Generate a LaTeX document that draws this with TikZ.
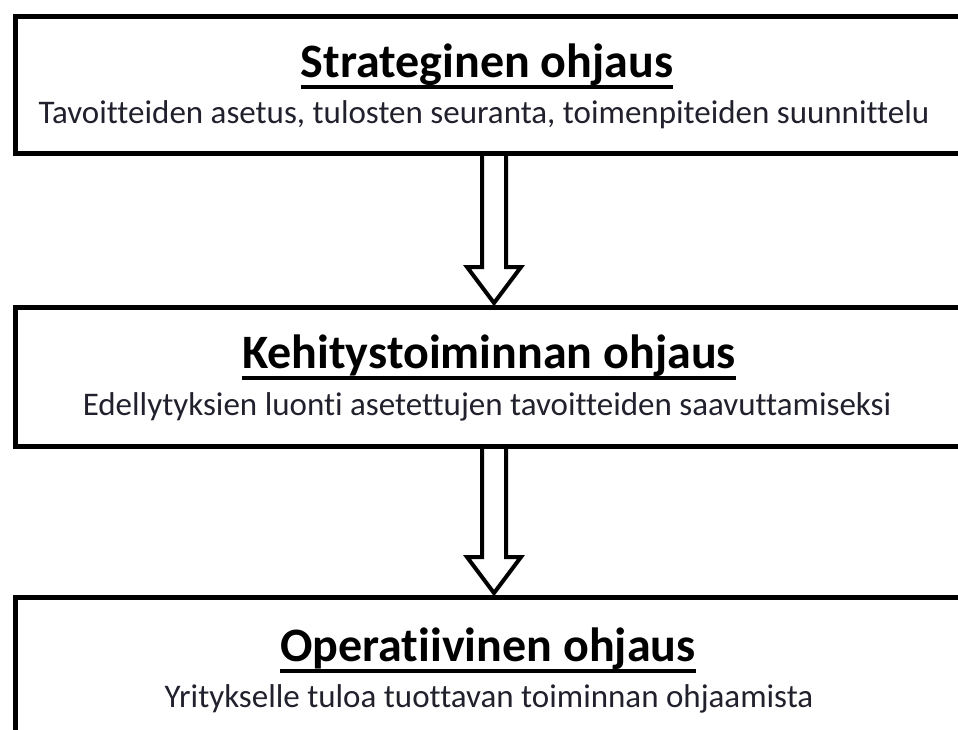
\documentclass[tikz,border=0pt]{standalone}
\usepackage{fontspec}
\setmainfont{Carlito}[Ligatures=NoCommon]
\usetikzlibrary{calc}
\definecolor{subtext}{rgb}{0.13,0.13,0.18}
\tikzset{
  box/.style={draw, line width=5pt, anchor=north west, minimum width=1100pt, inner sep=0pt},
  heading/.style={anchor=base, inner sep=0pt, font=\fontsize{48}{48}\selectfont\bfseries, text=black},
  subline/.style={anchor=base, inner sep=0pt, font=\fontsize{33}{33}\selectfont, text=subtext},
  uline/.style={line width=4pt},
  hollowarrow/.style={draw, line width=4pt, line join=miter},
}
\begin{document}
\begin{tikzpicture}[x=1pt, y=-1pt]
  \useasboundingbox (0,0) rectangle (958,729);
  \clip (0,0) rectangle (958,729);

  % three levels of steering
  \node[box, minimum height=137pt] (b1) at (13,14) {};
  \node[box, minimum height=139pt] (b2) at (13,305) {};
  \node[box, minimum height=300pt] (b3) at (13,595) {};

  \node[heading] (t1) at (487,77) {Strateginen ohjaus};
  \draw[uline] ([yshift=-10pt]t1.base west) -- ([yshift=-10pt]t1.base east);
  \node[subline] (s1) at (484,123) {Tavoitteiden asetus, tulosten seuranta, toimenpiteiden suunnittelu};

  \node[heading] (t2) at (489,368) {Kehitystoiminnan ohjaus};
  \draw[uline] ([yshift=-10pt]t2.base west) -- ([yshift=-10pt]t2.base east);
  \node[subline] (s2) at (487,415) {Edellytyksien luonti asetettujen tavoitteiden saavuttamiseksi};

  \node[heading] (t3) at (488,661) {Operatiivinen ohjaus};
  \draw[uline] ([yshift=-10pt]t3.base west) -- ([yshift=-10pt]t3.base east);
  \node[subline] (s3) at (489,707) {Yritykselle tuloa tuottavan toiminnan ohjaamista};

  % hollow block arrows between the levels
  \coordinate (ax) at (494,0);
  \coordinate (a1s) at (b1.south -| ax);
  \coordinate (a1e) at ([yshift=2pt]b2.north -| ax);
  \coordinate (a2s) at (b2.south -| ax);
  \coordinate (a2e) at ([yshift=2pt]b3.north -| ax);
  \draw[hollowarrow] ($(a1s)+(-12,0)$) -- ($(a1e)+(-12,-36)$) -- ($(a1e)+(-27,-36)$)
    -- (a1e) -- ($(a1e)+(27,-36)$) -- ($(a1e)+(12,-36)$) -- ($(a1s)+(12,0)$);
  \draw[hollowarrow] ($(a2s)+(-12,0)$) -- ($(a2e)+(-12,-36)$) -- ($(a2e)+(-27,-36)$)
    -- (a2e) -- ($(a2e)+(27,-36)$) -- ($(a2e)+(12,-36)$) -- ($(a2s)+(12,0)$);
\end{tikzpicture}
\end{document}
